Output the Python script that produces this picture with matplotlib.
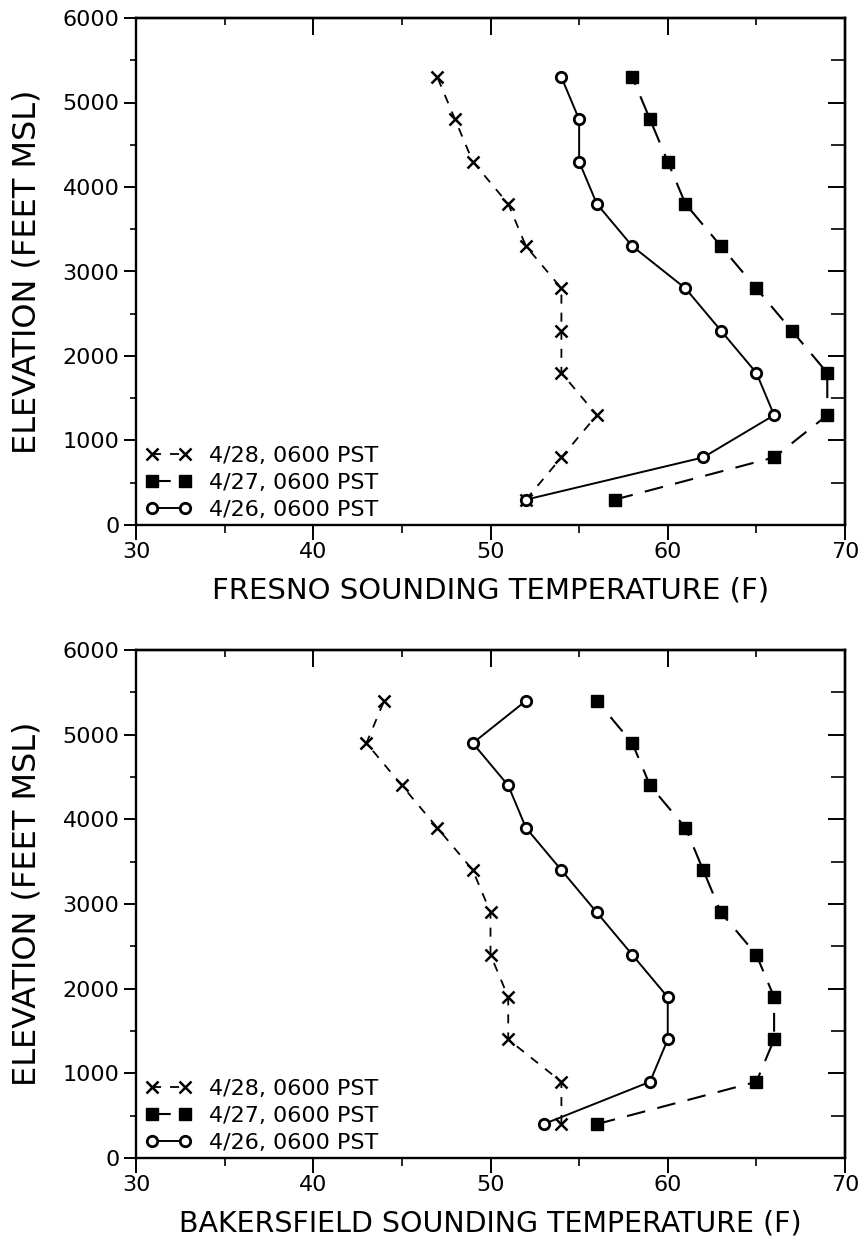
import matplotlib
matplotlib.use("Agg")
import matplotlib.pyplot as plt
from matplotlib.ticker import MultipleLocator, NullFormatter

# ---- data ----
labels = ["4/28, 0600 PST", "4/27, 0600 PST", "4/26, 0600 PST"]

fresno_elev = [300, 800, 1300, 1800, 2300, 2800, 3300, 3800, 4300, 4800, 5300]
fresno_0428 = [52, 54, 56, 54, 54, 54, 52, 51, 49, 48, 47]
fresno_0427 = [57, 66, 69, 69, 67, 65, 63, 61, 60, 59, 58]
fresno_0426 = [52, 62, 66, 65, 63, 61, 58, 56, 55, 55, 54]

bak_elev = [400, 900, 1400, 1900, 2400, 2900, 3400, 3900, 4400, 4900, 5400]
bak_0428 = [54, 54, 51, 51, 50, 50, 49, 47, 45, 43, 44]
bak_0427 = [56, 65, 66, 66, 65, 63, 62, 61, 59, 58, 56]
bak_0426 = [53, 59, 60, 60, 58, 56, 54, 52, 51, 49, 52]

xlabels = ["FRESNO SOUNDING TEMPERATURE (F)", "BAKERSFIELD SOUNDING TEMPERATURE (F)"]
ylabel = "ELEVATION (FEET MSL)"

W, H = 862, 1250
fig = plt.figure(figsize=(W / 100, H / 100), dpi=100)

def frac(left, top, right, bottom):
    return [left / W, 1 - bottom / H, (right - left) / W, (bottom - top) / H]

ax_top = fig.add_axes(frac(136, 18, 845, 525))
ax_bot = fig.add_axes(frac(136, 650, 845, 1158))

tick_font = "DejaVu Sans"
label_font = "DejaVu Sans"

def draw(ax, elev, s28, s27, s26, xlabel, xlsize):
    ax.plot(s28, elev, color="black", lw=1.3, ls=(0, (5, 5)), marker="x",
            ms=8, mew=1.8, label=labels[0])
    ax.plot(s27, elev, color="black", lw=1.5, ls=(0, (9, 6)), marker="s",
            ms=8, mfc="black", mec="black", label=labels[1])
    ax.plot(s26, elev, color="black", lw=1.4, ls="-", marker="o",
            ms=7.5, mfc="white", mec="black", mew=2.0, label=labels[2])
    ax.set_xlim(30, 70)
    ax.set_ylim(0, 6000)
    ax.xaxis.set_major_locator(MultipleLocator(10))
    ax.xaxis.set_minor_locator(MultipleLocator(5))
    ax.yaxis.set_major_locator(MultipleLocator(1000))
    ax.yaxis.set_minor_locator(MultipleLocator(500))
    ax.tick_params(axis="x", which="major", direction="out", length=11,
                   width=1.4, labelsize=16, pad=1)
    ax.tick_params(axis="x", which="minor", direction="out", length=6, width=1.2)
    ax.tick_params(axis="y", which="major", direction="out", length=9,
                   width=1.4, labelsize=16, pad=3)
    ax.tick_params(axis="y", which="minor", direction="out", length=4, width=1.2)
    ax.tick_params(which="both", top=False, right=False)
    for lab in ax.get_xticklabels() + ax.get_yticklabels():
        lab.set_fontfamily(tick_font)
    for sp in ax.spines.values():
        sp.set_linewidth(1.7)

    # inward ticks on the top and right frame
    sx = ax.secondary_xaxis("top")
    sx.xaxis.set_major_locator(MultipleLocator(10))
    sx.xaxis.set_minor_locator(MultipleLocator(5))
    sx.xaxis.set_major_formatter(NullFormatter())
    sx.tick_params(which="major", direction="in", length=12, width=1.4)
    sx.tick_params(which="minor", direction="in", length=5, width=1.2)
    sx.spines["top"].set_linewidth(1.7)
    sy = ax.secondary_yaxis("right")
    sy.yaxis.set_major_locator(MultipleLocator(1000))
    sy.yaxis.set_minor_locator(MultipleLocator(500))
    sy.yaxis.set_major_formatter(NullFormatter())
    sy.tick_params(which="major", direction="in", length=12, width=1.4)
    sy.tick_params(which="minor", direction="in", length=10, width=1.2)
    sy.spines["right"].set_linewidth(1.7)

    ax.set_xlabel(xlabel, fontsize=xlsize, family=label_font, labelpad=11)
    ax.set_ylabel(ylabel, fontsize=23, family=label_font, labelpad=14)
    ax.legend(loc="lower left", frameon=False, numpoints=2,
              handlelength=2.1, handletextpad=0.8, labelspacing=0.33,
              borderaxespad=0.0, bbox_to_anchor=(0.0, -0.008),
              prop={"family": tick_font, "size": 16})

draw(ax_top, fresno_elev, fresno_0428, fresno_0427, fresno_0426, xlabels[0], 21)
draw(ax_bot, bak_elev, bak_0428, bak_0427, bak_0426, xlabels[1], 20.5)

fig.savefig("out.png", dpi=100, facecolor="white")
